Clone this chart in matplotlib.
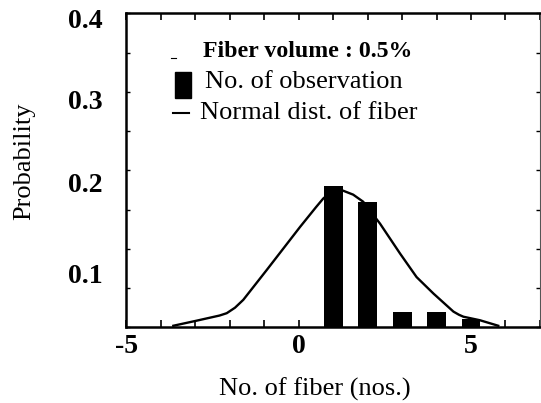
import numpy as np
import matplotlib
matplotlib.use("Agg")
import matplotlib.pyplot as plt
from matplotlib.patches import Rectangle
from matplotlib.lines import Line2D

plt.rcParams['font.family'] = ['Liberation Serif', 'DejaVu Serif']

# observed fiber counts (probability per count)
fiber_count = [1, 2, 3, 4, 5]
obs_prob = [0.18, 0.16, 0.02, 0.02, 0.01]

# fitted normal curve, read point by point
norm_x = [-3.64, -2.96, -2.30, -2.09, -1.85, -1.61, -0.93, 0.04, 0.50, 0.71,
          0.90, 1.10, 1.29, 1.58, 1.87, 2.36, 2.94, 3.42, 3.91, 4.49,
          4.65, 4.78, 5.26, 5.79]
norm_y = [0.002, 0.0085, 0.015, 0.018, 0.025, 0.035, 0.073, 0.128, 0.153, 0.164,
          0.171, 0.175, 0.174, 0.169, 0.160, 0.132, 0.094, 0.064, 0.043, 0.020,
          0.016, 0.0135, 0.009, 0.002]

xtick_labels = ['-5', '0', '5']
ytick_labels = ['0.1', '0.2', '0.3', '0.4']
# where the y labels sit along the axis
ylabel_pos = [0.069, 0.185, 0.290, 0.394]

fig = plt.figure(figsize=(5.41, 4.03), dpi=100)
ax = fig.add_axes([0.2338, 0.1878, 0.7642, 0.7792])

ax.bar(fiber_count, obs_prob, width=0.55, color='black', zorder=2)
ax.plot(norm_x, norm_y, color='black', lw=1.7, zorder=3)

ax.set_xlim(-5, 7)
ax.set_ylim(0, 0.4)

# x ticks every integer, labelled only at -5, 0, 5
xt = np.arange(-5, 8, 1)
ax.set_xticks(xt)
ax.set_xticklabels([xtick_labels[[-5, 0, 5].index(v)] if v in (-5, 0, 5) else '' for v in xt])
ax.tick_params(axis='x', direction='in', length=5, width=1.2, top=True,
               labelsize=20, pad=5)
for lab in ax.get_xticklabels():
    lab.set_fontweight('bold')

ax.set_yticks(ylabel_pos)
ax.set_yticklabels(ytick_labels)
ax.tick_params(axis='y', which='major', length=0, labelsize=20, pad=17)
for lab in ax.get_yticklabels():
    lab.set_fontweight('bold')
ax.set_yticks(np.arange(0, 0.41, 0.05), minor=True)
ax.tick_params(axis='y', which='minor', direction='in', length=3, width=1.0,
               left=True, right=True)

for side in ['left', 'bottom', 'top']:
    ax.spines[side].set_linewidth(1.8)
ax.spines['right'].set_linewidth(0.8)
ax.spines['right'].set_color('#555555')

ax.set_xlabel('No. of fiber (nos.)', fontsize=19)
ax.xaxis.set_label_coords(0.456, -0.160)
ax.set_ylabel('Probability', fontsize=19)
ax.yaxis.set_label_coords(-0.221, 0.530)

# legend block
ax.add_line(Line2D([0.107, 0.120], [0.857, 0.857], transform=ax.transAxes,
                   color='black', lw=0.8))
ax.text(0.185, 0.878, 'Fiber volume : 0.5%', transform=ax.transAxes,
        fontsize=17.2, fontweight='bold', va='center', ha='left')
ax.add_patch(Rectangle((0.117, 0.729), 0.038, 0.083, transform=ax.transAxes,
                       color='black'))
ax.text(0.190, 0.782, 'No. of observation', transform=ax.transAxes,
        fontsize=19, va='center', ha='left')
ax.add_line(Line2D([0.112, 0.151], [0.683, 0.683], transform=ax.transAxes,
                   color='black', lw=1.5))
ax.text(0.178, 0.683, 'Normal dist. of fiber', transform=ax.transAxes,
        fontsize=19, va='center', ha='left')

fig.savefig('out.png', dpi=100)
